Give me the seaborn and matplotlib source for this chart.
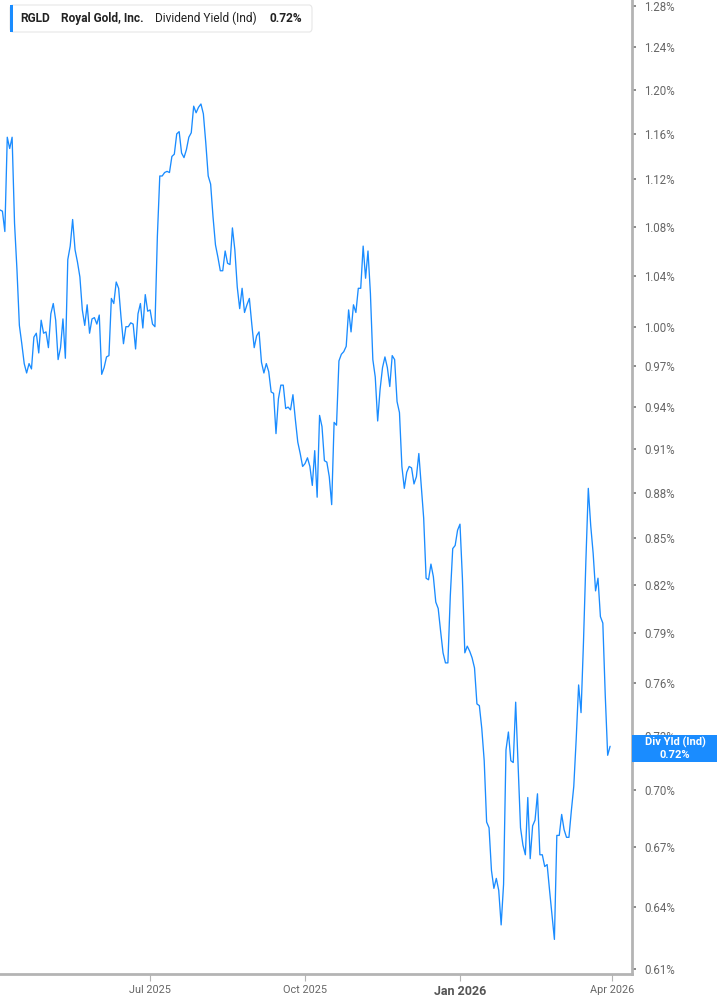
import matplotlib
matplotlib.use("Agg")
import matplotlib.pyplot as plt
import matplotlib.ticker as mticker
from matplotlib.patches import Rectangle, FancyBboxPatch
import seaborn as sns
import pandas as pd

# dividend yield (%), oldest first
div_yield = [
    1.094, 1.093, 1.076, 1.157, 1.147, 1.157, 1.083, 1.045, 1.001, 0.987,
    0.972, 0.965, 0.972, 0.968, 0.992, 0.995, 0.980, 1.005, 0.995, 0.996,
    0.984, 1.010, 1.018, 1.005, 0.975, 0.984, 1.006, 0.976, 1.053, 1.064,
    1.086, 1.061, 1.051, 1.039, 1.013, 1.001, 1.017, 0.995, 1.006, 1.007,
    1.002, 1.009, 0.964, 0.969, 0.977, 0.978, 1.022, 1.018, 1.035, 1.030,
    1.007, 0.987, 1.000, 1.000, 1.003, 1.002, 0.983, 1.010, 1.018, 0.999,
    1.025, 1.012, 1.013, 1.002, 1.000, 1.072, 1.123, 1.123, 1.126, 1.127,
    1.126, 1.140, 1.142, 1.160, 1.162, 1.143, 1.139, 1.146, 1.157, 1.161,
    1.185, 1.179, 1.184, 1.187, 1.178, 1.152, 1.123, 1.116, 1.088, 1.065,
    1.055, 1.044, 1.044, 1.060, 1.050, 1.049, 1.079, 1.061, 1.031, 1.014,
    1.030, 1.011, 1.017, 1.022, 1.002, 0.984, 0.993, 0.996, 0.973, 0.965,
    0.972, 0.966, 0.951, 0.950, 0.921, 0.946, 0.956, 0.956, 0.939, 0.940,
    0.938, 0.949, 0.931, 0.915, 0.907, 0.898, 0.900, 0.904, 0.898, 0.885,
    0.909, 0.877, 0.934, 0.926, 0.902, 0.901, 0.891, 0.872, 0.929, 0.927,
    0.974, 0.979, 0.981, 0.985, 1.013, 0.996, 1.017, 1.011, 1.030, 1.030,
    1.064, 1.038, 1.060, 1.026, 0.975, 0.962, 0.930, 0.953, 0.969, 0.977,
    0.969, 0.955, 0.978, 0.975, 0.944, 0.936, 0.898, 0.883, 0.894, 0.898,
    0.897, 0.886, 0.891, 0.907, 0.885, 0.863, 0.824, 0.823, 0.833, 0.825,
    0.809, 0.805, 0.791, 0.778, 0.772, 0.772, 0.813, 0.843, 0.845, 0.855,
    0.859, 0.824, 0.778, 0.782, 0.779, 0.775, 0.769, 0.748, 0.747, 0.734,
    0.716, 0.683, 0.680, 0.658, 0.649, 0.654, 0.648, 0.631, 0.651, 0.722,
    0.732, 0.716, 0.715, 0.749, 0.713, 0.680, 0.671, 0.666, 0.696, 0.664,
    0.681, 0.684, 0.698, 0.666, 0.666, 0.660, 0.661, 0.648, 0.636, 0.624,
    0.676, 0.676, 0.687, 0.679, 0.675, 0.675, 0.689, 0.702, 0.728, 0.759,
    0.743, 0.784, 0.835, 0.883, 0.858, 0.840, 0.816, 0.824, 0.800, 0.796,
    0.753, 0.719, 0.724,
]
start_date = "2025-04-03"
end_date = "2026-03-31"

y_ticks = [0.61, 0.64, 0.67, 0.70, 0.73, 0.76, 0.79, 0.82, 0.85, 0.88, 0.91,
           0.94, 0.97, 1.00, 1.04, 1.08, 1.12, 1.16, 1.20, 1.24, 1.28]
x_ticks = ["2025-07-01", "2025-10-01", "2026-01-01", "2026-04-01"]
x_labels = ["Jul 2025", "Oct 2025", "Jan 2026", "Apr 2026"]

ticker_name = "RGLD"
company = "Royal Gold, Inc."
metric = "Dividend Yield (Ind)"
last_label = "0.72%"

df = pd.DataFrame({
    "date": pd.date_range(start_date, end_date, periods=len(div_yield)),
    "yield": div_yield,
})

blue = "#1a8cff"
grey_txt = "#666666"
spine_col = "#b4b4b4"

sns.set_style("white")
plt.rcParams["font.family"] = ["Roboto", "DejaVu Sans"]

W, H = 717, 1005
fig = plt.figure(figsize=(W / 100, H / 100), dpi=100)
ax = fig.add_axes([0, 31 / H, 632 / W, 1 - 31 / H])

sns.lineplot(data=df, x="date", y="yield", ax=ax, color=blue, linewidth=0.95)

ax.set_yscale("log")
ax.set_ylim(0.6076, 1.2859)
ax.set_xlim(pd.Timestamp("2025-04-03"), pd.Timestamp("2026-04-13"))
ax.yaxis.set_minor_locator(mticker.NullLocator())
ax.set_yticks(y_ticks)
ax.set_yticklabels([f"{v:.2f}%" for v in y_ticks])
ax.yaxis.tick_right()
ax.tick_params(axis="y", which="major", right=True, left=False, length=3, width=1.2,
               color="#777777", pad=6, labelsize=8.3, labelcolor=grey_txt)
ax.set_xticks(pd.to_datetime(x_ticks))
ax.set_xticklabels(x_labels)
ax.tick_params(axis="x", bottom=True, length=5, width=0.8, color=spine_col,
               pad=3, labelsize=7.8, labelcolor=grey_txt)
for lab in ax.get_xticklabels():
    if lab.get_text().startswith("Jan"):
        lab.set_fontweight("bold")
        lab.set_fontsize(9)
        lab.set_color("#555555")

ax.set_xlabel("")
ax.set_ylabel("")
for side in ["top", "left"]:
    ax.spines[side].set_visible(False)
for side in ["right", "bottom"]:
    ax.spines[side].set_color(spine_col)
    ax.spines[side].set_linewidth(2)

# header box in the top left
fig.patches.append(FancyBboxPatch((10 / W, 1 - 32 / H), 302 / W, 27 / H,
                                  boxstyle="round,pad=0,rounding_size=0.004",
                                  transform=fig.transFigure, facecolor="white",
                                  edgecolor="#e6e6e6", linewidth=0.8, zorder=5))
fig.patches.append(Rectangle((10 / W, 1 - 32 / H), 3 / W, 27 / H,
                             transform=fig.transFigure, facecolor=blue,
                             edgecolor="none", zorder=6))
ty = 1 - 18.5 / H
for txt, xp, wt in [(ticker_name, 20, "bold"), (company, 61, "bold"),
                    (metric, 155, "normal"), (last_label, 270, "bold")]:
    fig.text(xp / W, ty, txt, fontsize=8.6, fontweight=wt, color="#222222",
             va="center", ha="left", zorder=7)

# last value flag on the right axis
fig.patches.append(Rectangle((632 / W, 1 - 762 / H), 85 / W, 27 / H,
                             transform=fig.transFigure, facecolor=blue,
                             edgecolor="none", zorder=8))
fig.text(675 / W, 1 - 742.5 / H, "Div Yld (Ind)", fontsize=8, fontweight="bold",
         color="white", ha="center", va="center", zorder=9)
fig.text(675 / W, 1 - 755 / H, last_label, fontsize=8, fontweight="bold",
         color="white", ha="center", va="center", zorder=9)

fig.savefig("out.png", dpi=100)
